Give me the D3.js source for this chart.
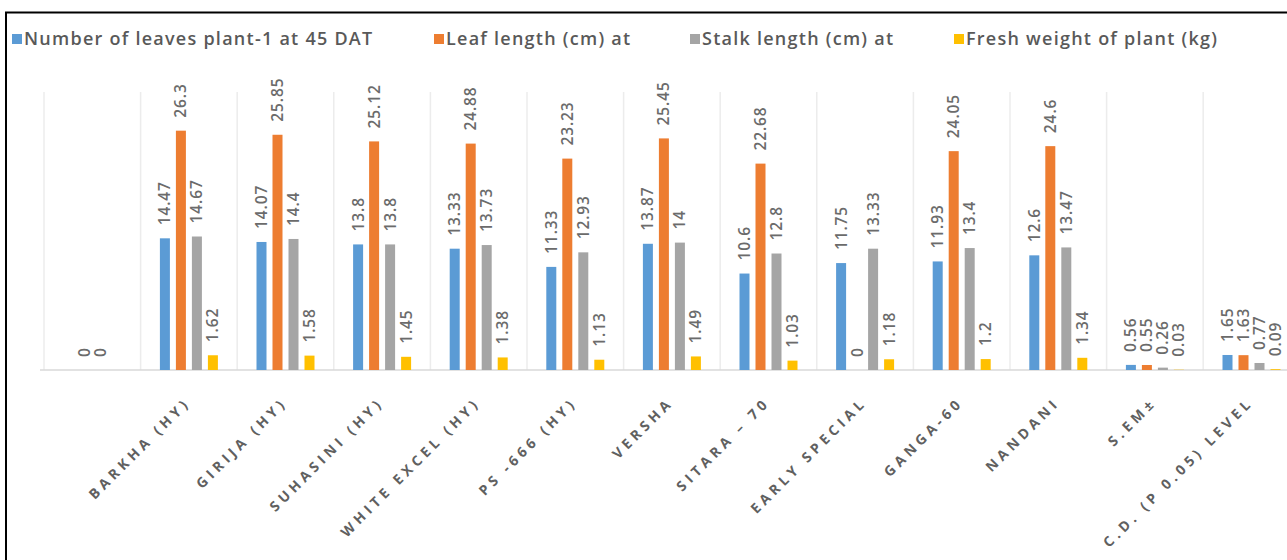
<!DOCTYPE html>
<html>
<head>
<meta charset="utf-8">
<script src="https://cdn.jsdelivr.net/npm/d3@7/dist/d3.min.js"></script>
<style>
  html, body { margin: 0; padding: 0; background: #fff; }
  svg { display: block; }
  text { font-family: "Open Sans", "Noto Sans", sans-serif; }
</style>
</head>
<body>
<svg id="chart" width="1287" height="560"></svg>
<script>
// Varieties (the first slot carries no name)
const categories = ["", "BARKHA (HY)", "GIRIJA (HY)", "SUHASINI (HY)", "WHITE EXCEL (HY)",
  "PS -666 (HY)", "VERSHA", "SITARA – 70", "EARLY SPECIAL", "GANGA-60", "NANDANI",
  "S.EM±", "C.D. (P 0.05) LEVEL"];

const seriesNames = ["Number of leaves plant-1 at 45 DAT", "Leaf length (cm) at",
  "Stalk length (cm) at", "Fresh weight of plant (kg)"];

const leaves     = [null, 14.47, 14.07, 13.8, 13.33, 11.33, 13.87, 10.6, 11.75, 11.93, 12.6, 0.56, 1.65];
const leafLength = [0, 26.3, 25.85, 25.12, 24.88, 23.23, 25.45, 22.68, 0, 24.05, 24.6, 0.55, 1.63];
const stalk      = [0, 14.67, 14.4, 13.8, 13.73, 12.93, 14, 12.8, 13.33, 13.4, 13.47, 0.26, 0.77];
const freshWt    = [null, 1.62, 1.58, 1.45, 1.38, 1.13, 1.49, 1.03, 1.18, 1.2, 1.34, 0.03, 0.09];

const colors = ["#5B9BD5", "#ED7D31", "#A5A5A5", "#FFC000"];
const series = [leaves, leafLength, stalk, freshWt];

const svg = d3.select("#chart");

// Outer frame (runs off the right and bottom edges)
svg.append("rect")
  .attr("x", 6).attr("y", 12.5)
  .attr("width", 1400).attr("height", 700)
  .attr("fill", "none").attr("stroke", "#000").attr("stroke-width", 2);

const plotLeft = 44, catStep = 96.6, baseY = 370, topY = 97;

const x = d3.scaleBand()
  .domain(d3.range(categories.length))
  .range([plotLeft, plotLeft + catStep * categories.length])
  .paddingInner(0).paddingOuter(0);

const y = d3.scaleLinear().domain([0, 30]).range([baseY, topY]);

const inner = d3.scaleBand()
  .domain(d3.range(series.length))
  .range([-29, 29])
  .paddingInner(0.375).paddingOuter(0);

// Category separators
const bounds = d3.range(categories.length + 1).map(i => plotLeft + i * catStep);
svg.append("g").selectAll("line").data(bounds).join("line")
  .attr("x1", d => d).attr("x2", d => d)
  .attr("y1", 92).attr("y2", baseY)
  .attr("stroke", "#ececec").attr("stroke-width", 1.5);

// Category axis
const xAxis = d3.axisBottom(x).tickSize(0).tickFormat(i => categories[i]);
const gx = svg.append("g").attr("transform", `translate(0,${baseY})`).call(xAxis);
gx.select(".domain").attr("stroke", "#d9d9d9").attr("stroke-width", 1.5)
  .attr("d", `M40,0H1287`);
gx.selectAll(".tick text")
  .attr("transform", "translate(-1,30) rotate(-45)")
  .attr("text-anchor", "end")
  .attr("dy", "0.35em")
  .attr("y", 0).attr("x", 0)
  .attr("fill", "#606060")
  .style("font-size", "14px").style("font-weight", 700)
  .style("letter-spacing", "4.2px");

// Bars and value labels
series.forEach((vals, s) => {
  const g = svg.append("g");
  const pts = vals.map((v, i) => ({ v, i })).filter(d => d.v !== null);
  g.selectAll("rect").data(pts.filter(d => d.v > 0)).join("rect")
    .attr("x", d => x(d.i) + x.bandwidth() / 2 + inner(s))
    .attr("width", inner.bandwidth())
    .attr("y", d => y(d.v))
    .attr("height", d => y(0) - y(d.v))
    .attr("fill", colors[s]);
  g.selectAll("text").data(pts).join("text")
    .attr("transform", d => {
      const cx = x(d.i) + x.bandwidth() / 2 + inner(s) + inner.bandwidth() / 2;
      return `translate(${cx},${y(d.v) - 13}) rotate(-90)`;
    })
    .attr("dy", "0.36em")
    .attr("text-anchor", "start")
    .attr("fill", "#6b6b6b")
    .style("font-size", "15.5px").style("font-weight", 600)
    .style("letter-spacing", "0.9px")
    .text(d => String(d.v));
});

// Legend
const legendX = [12, 434, 690, 954];
const lg = svg.append("g");
seriesNames.forEach((name, s) => {
  lg.append("rect").attr("x", legendX[s]).attr("y", 34).attr("width", 10).attr("height", 10)
    .attr("fill", colors[s]);
  lg.append("text").attr("x", legendX[s] + 12).attr("y", 39).attr("dy", "0.35em")
    .attr("fill", "#595959").style("font-size", "18px").style("font-weight", 600)
    .style("letter-spacing", "1.25px")
    .text(name);
});
</script>
</body>
</html>
